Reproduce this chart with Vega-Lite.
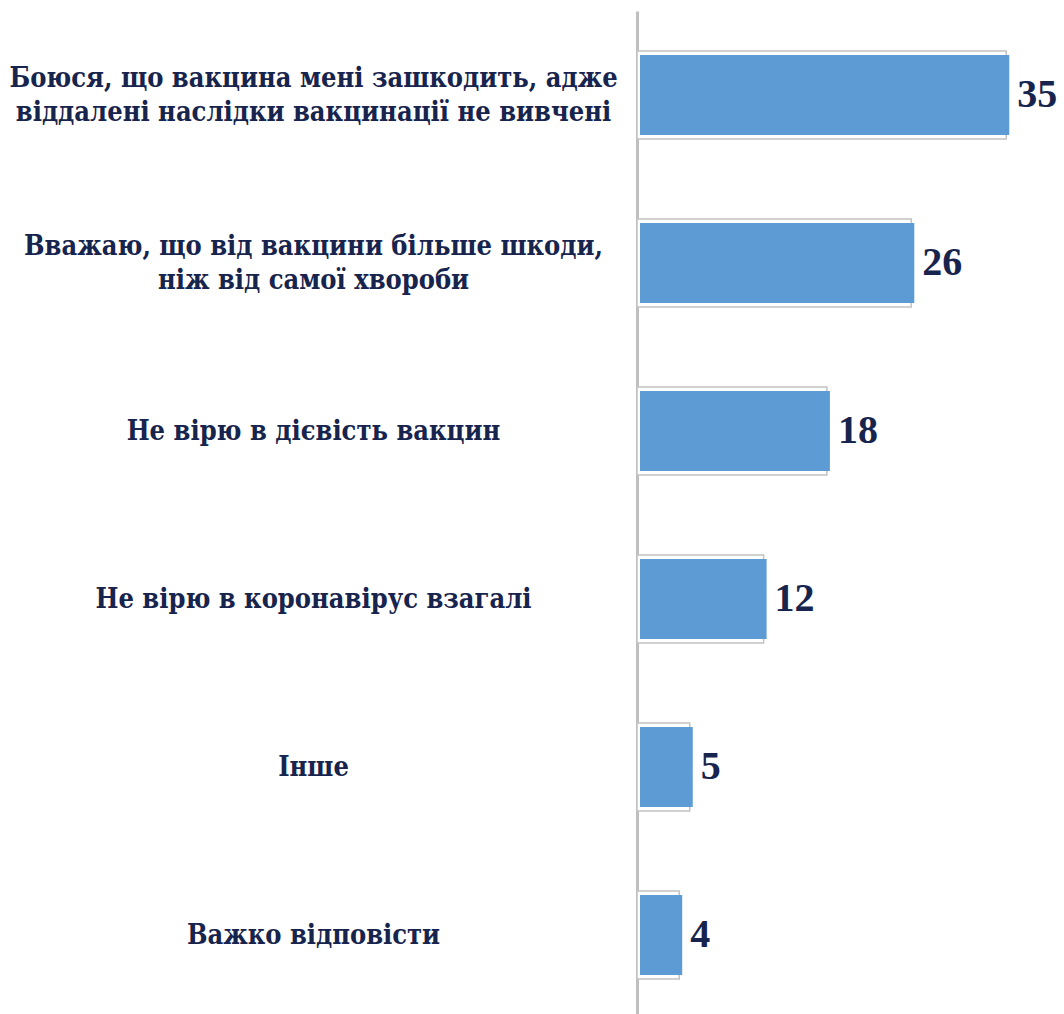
{
  "$schema": "https://vega.github.io/schema/vega-lite/v6.json",
  "width": 422,
  "height": 1008,
  "autosize": "none",
  "padding": {"left": 637, "top": 11, "right": 3, "bottom": 0},
  "background": "white",
  "data": {
    "values": [
      {"label": "Боюся, що вакцина мені зашкодить, адже|віддалені наслідки вакцинації не вивчені", "value": 35},
      {"label": "Вважаю, що від вакцини більше шкоди,|ніж від самої хвороби", "value": 26},
      {"label": "Не вірю в дієвість вакцин", "value": 18},
      {"label": "Не вірю в коронавірус взагалі", "value": 12},
      {"label": "Інше", "value": 5},
      {"label": "Важко відповісти", "value": 4}
    ]
  },
  "encoding": {
    "y": {
      "field": "label",
      "type": "nominal",
      "sort": null,
      "axis": {
        "title": null,
        "ticks": false,
        "domainColor": "#bfbfbf",
        "domainWidth": 3,
        "labelAlign": "center",
        "labelBaseline": "middle",
        "labelPadding": 324,
        "labelLimit": 0,
        "labelFont": "DejaVu Serif Condensed",
        "labelFontWeight": "bold",
        "labelFontSize": 27,
        "labelLineHeight": 34,
        "labelColor": "#17244d",
        "labelOffset": {"condition": {"test": "indexof(datum.value, '|') >= 0", "value": -16}, "value": 1},
        "labelExpr": "split(datum.label, '|')"
      }
    },
    "x": {
      "field": "value",
      "type": "quantitative",
      "scale": {"domain": [0, 40]},
      "axis": null
    }
  },
  "layer": [
    {
      "mark": {"type": "bar", "size": 88, "fill": "white", "stroke": "#c2c2c2", "strokeWidth": 1.5}
    },
    {
      "mark": {"type": "bar", "size": 80, "fill": "#5d9bd4", "xOffset": 3, "x2Offset": -3}
    },
    {
      "mark": {"type": "text", "align": "left", "baseline": "middle", "dx": 11, "font": "Liberation Serif", "fontWeight": "bold", "fontSize": 40, "fill": "#17244d"},
      "encoding": {"text": {"field": "value", "type": "quantitative"}}
    }
  ],
  "config": {"view": {"stroke": null}}
}
